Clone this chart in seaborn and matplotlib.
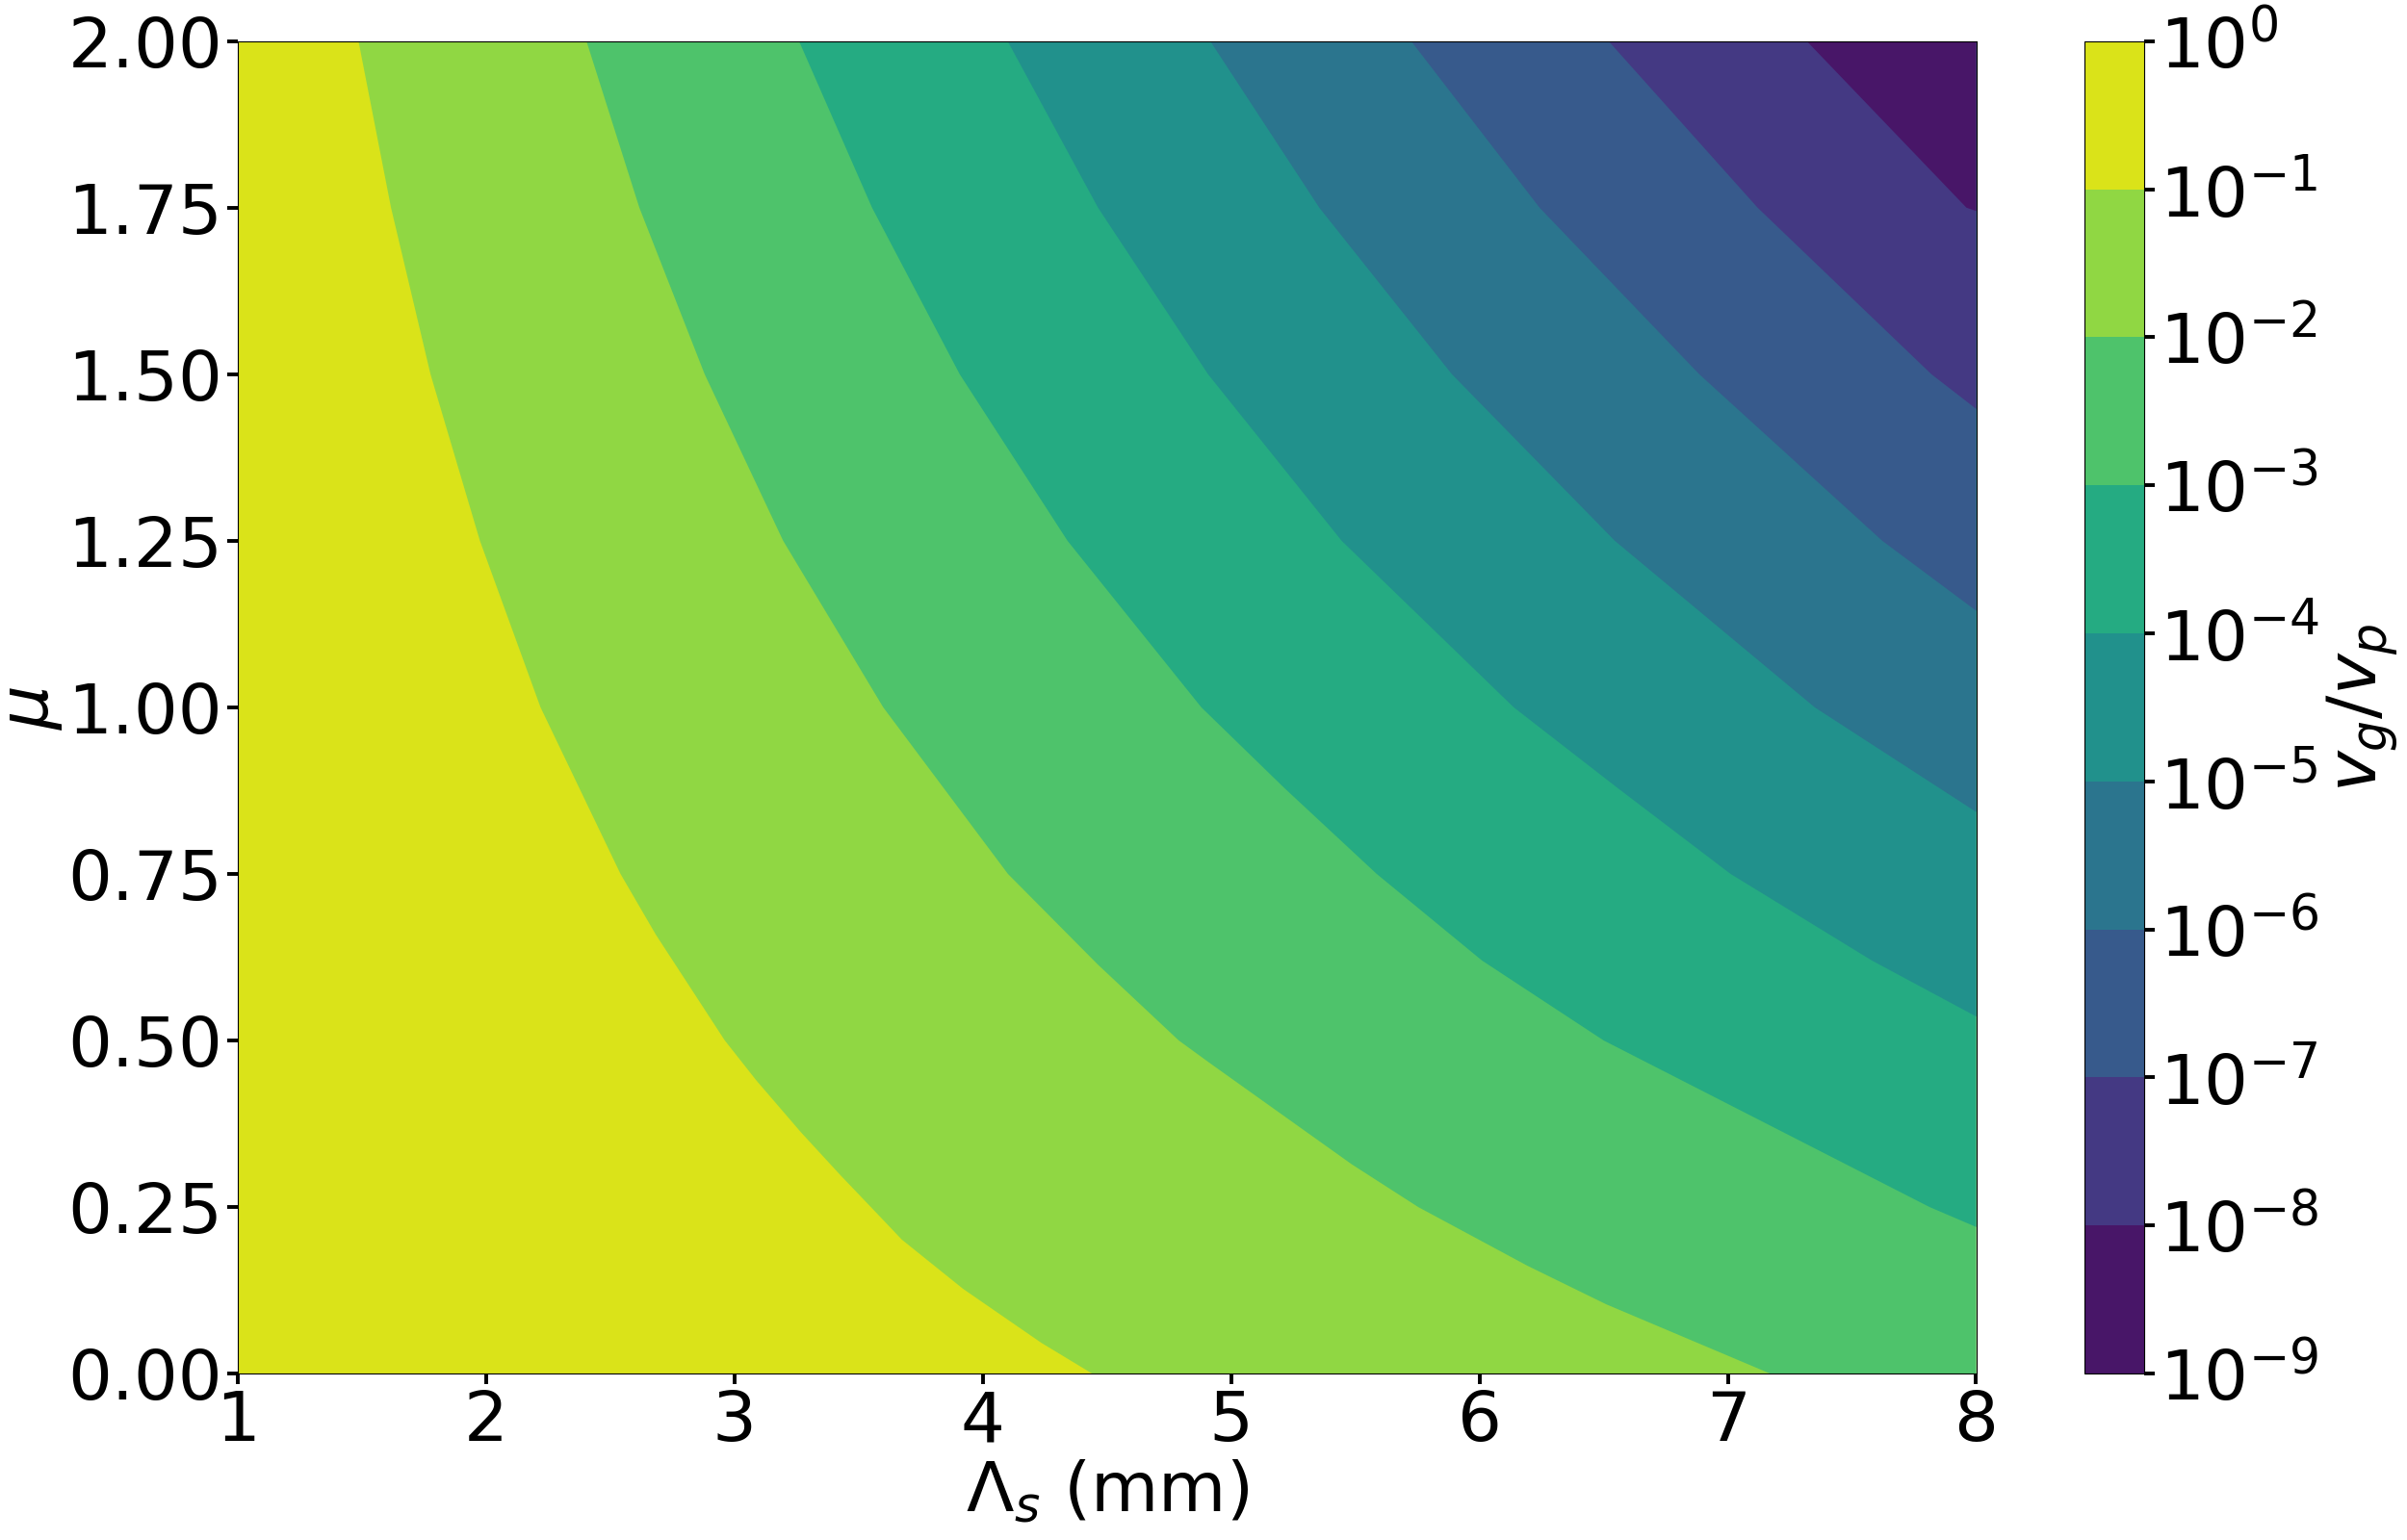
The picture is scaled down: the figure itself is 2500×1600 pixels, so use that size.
import numpy as np
import matplotlib
matplotlib.use("Agg")
import matplotlib.pyplot as plt
from matplotlib.colors import LogNorm, ListedColormap, BoundaryNorm
from matplotlib.cm import ScalarMappable
import seaborn as sns

# axis ranges
lam_range = [1.0, 8.0]   # Lambda_s (mm)
mu_range = [0.0, 2.0]

# contour boundaries: mu value and Lambda_s where each
# decade level crosses it (a point at lam = 8 is where the curve meets the right edge)
b1_mu = [0.0, 0.046, 0.127, 0.201, 0.25, 0.298, 0.362, 0.44, 0.5, 0.659, 0.75, 1.0, 1.25, 1.5, 1.75, 2.0]
b1_lam = [4.44, 4.236, 3.921, 3.674, 3.549, 3.426, 3.268, 3.088, 2.961, 2.683, 2.541, 2.219, 1.975, 1.776, 1.617, 1.486]

b2_mu = [0.0, 0.104, 0.162, 0.25, 0.314, 0.465, 0.5, 0.614, 0.75, 1.0, 1.25, 1.5, 1.75, 2.0]
b2_lam = [7.17, 6.51, 6.192, 5.753, 5.486, 4.918, 4.789, 4.463, 4.101, 3.599, 3.196, 2.880, 2.617, 2.404]

b3_mu = [0.220, 0.25, 0.5, 0.62, 0.75, 0.879, 1.0, 1.25, 1.5, 1.75, 2.0]
b3_lam = [8.0, 7.812, 6.50, 6.01, 5.586, 5.214, 4.880, 4.341, 3.907, 3.554, 3.26]

b4_mu = [0.536, 0.62, 0.75, 0.879, 1.0, 1.25, 1.5, 1.75, 2.0]
b4_lam = [8.0, 7.58, 7.011, 6.556, 6.138, 5.445, 4.907, 4.464, 4.10]

b5_mu = [0.843, 1.0, 1.25, 1.5, 1.75, 2.0]
b5_lam = [8.0, 7.35, 6.545, 5.889, 5.355, 4.916]

b6_mu = [1.145, 1.25, 1.5, 1.75, 2.0]
b6_lam = [8.0, 7.622, 6.885, 6.242, 5.725]

b7_mu = [1.448, 1.5, 1.75, 2.0]
b7_lam = [8.0, 7.82, 7.120, 6.52]

b8_mu = [1.745, 1.75, 2.0]
b8_lam = [8.0, 7.961, 7.318]

exponents = [-9, -8, -7, -6, -5, -4, -3, -2, -1, 0]

FS = 52

sns.set_style("ticks", {"axes.edgecolor": "black", "text.color": "black",
                        "xtick.color": "black", "ytick.color": "black",
                        "axes.labelcolor": "black"})
plt.rcParams["font.family"] = ["DejaVu Sans"]
plt.rcParams["mathtext.fontset"] = "dejavusans"

levels = 10.0 ** np.array(exponents, dtype=float)
# colour of each band = viridis at the log-midpoint of the band, like contourf
viridis = sns.color_palette("viridis", as_cmap=True)
lognorm = LogNorm(vmin=levels[0], vmax=levels[-1])
band_colors = [viridis(lognorm(np.sqrt(levels[i] * levels[i + 1])))
               for i in range(len(levels) - 1)]

fig = plt.figure(figsize=(25, 16), dpi=100)
ax = fig.add_axes([0.0988, 0.1081, 0.7222, 0.8652])
cax = fig.add_axes([0.866, 0.1081, 0.0248, 0.8652])

x0, x1 = lam_range
y0, y1 = mu_range

# top band covers the whole panel
ax.fill([x0, x1, x1, x0], [y0, y0, y1, y1], color=band_colors[-1], lw=0)

# each lower band: everything to the right of / above its boundary curve
boundaries = [(b1_lam, b1_mu), (b2_lam, b2_mu), (b3_lam, b3_mu), (b4_lam, b4_mu),
              (b5_lam, b5_mu), (b6_lam, b6_mu), (b7_lam, b7_mu), (b8_lam, b8_mu)]
for k, (lam, m) in enumerate(boundaries):
    px = list(lam) + [x1]
    py = list(m) + [y1]
    if m[0] == y0:
        px.append(x1)
        py.append(y0)
    ax.fill(px, py, color=band_colors[-2 - k], lw=0, antialiased=True)

ax.set_xlim(x0, x1)
ax.set_ylim(y0, y1)
ax.set_xticks([1, 2, 3, 4, 5, 6, 7, 8])
ax.set_yticks([0.0, 0.25, 0.5, 0.75, 1.0, 1.25, 1.5, 1.75, 2.0])
ax.set_yticklabels(["0.00", "0.25", "0.50", "0.75", "1.00", "1.25", "1.50", "1.75", "2.00"])
ax.tick_params(labelsize=FS, length=8, width=2.8)
ax.set_xlabel(r"$\Lambda_s$ (mm)", fontsize=FS, labelpad=2)
ax.set_ylabel(r"$\mu$", fontsize=FS, labelpad=2)
for sp in ax.spines.values():
    sp.set_linewidth(0.8)
    sp.set_zorder(5)

band_cmap = ListedColormap(band_colors)
sm = ScalarMappable(norm=BoundaryNorm(levels, band_cmap.N), cmap=band_cmap)
cb = fig.colorbar(sm, cax=cax, boundaries=levels, ticks=levels)
cb.set_ticklabels([rf"$10^{{{e}}}$" for e in exponents])
cb.ax.tick_params(labelsize=FS, length=8, width=2.8)
cb.ax.minorticks_off()
cb.set_label(r"$v_g/v_p$", fontsize=FS)
cb.outline.set_linewidth(0.8)

fig.savefig("out.png", dpi=100)
